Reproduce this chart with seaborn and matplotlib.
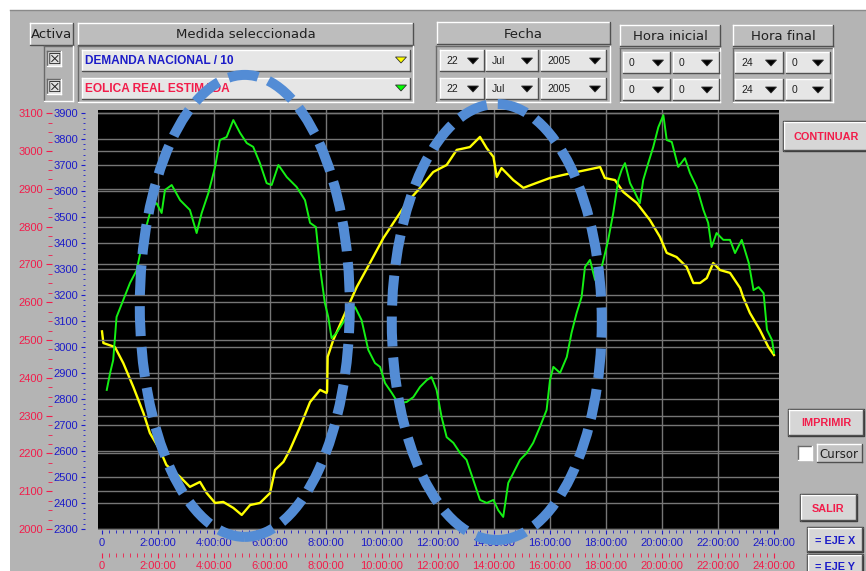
import matplotlib
matplotlib.use("Agg")
from matplotlib import pyplot as plt
from matplotlib.patches import Rectangle, Ellipse, Polygon
from matplotlib.lines import Line2D
from matplotlib.ticker import MultipleLocator
import seaborn as sns

# Demanda nacional / 10 (eje azul) - hora del dia
horas_demanda = [0.0, 0.05, 0.46, 0.76, 1.12, 1.48, 1.71, 2.07, 2.3, 2.79, 3.14, 3.5, 3.74,
                 4.04, 4.33, 4.69, 4.99, 5.29, 5.64, 6.0, 6.18, 6.48, 6.71, 7.07, 7.43,
                 7.79, 8.02, 8.04, 8.06, 8.26, 8.62, 9.1, 9.57, 10.05, 10.52, 10.88, 11.36,
                 11.83, 12.31, 12.67, 13.14, 13.5, 13.74, 13.98, 14.1, 14.27, 14.69, 15.05,
                 15.52, 16.0, 16.48, 16.95, 17.31, 17.79, 17.96, 18.32, 18.62, 19.1, 19.57,
                 19.93, 20.17, 20.52, 20.88, 21.12, 21.36, 21.6, 21.83, 22.07, 22.43, 22.79,
                 22.9, 23.14, 23.5, 23.8, 24.0]
demanda = [3060, 3015, 3000, 2938, 2846, 2746, 2669, 2604, 2546, 2500, 2462, 2481, 2438,
           2400, 2404, 2381, 2354, 2392, 2400, 2438, 2527, 2558, 2604, 2692, 2788,
           2835, 2823, 2830, 2962, 3027, 3115, 3231, 3323, 3419, 3496, 3554, 3612,
           3673, 3700, 3758, 3769, 3808, 3765, 3731, 3654, 3688, 3642, 3612,
           3631, 3650, 3662, 3673, 3681, 3692, 3650, 3642, 3596, 3554, 3488,
           3423, 3362, 3346, 3308, 3246, 3246, 3265, 3323, 3296, 3285, 3227,
           3192, 3131, 3065, 3000, 2969]

# Eolica real estimada (eje rojo)
horas_eolica = [0.17, 0.29, 0.4, 0.52, 0.76, 1.0, 1.24, 1.48, 1.77, 1.95, 2.13, 2.25, 2.49,
                2.79, 3.14, 3.38, 3.56, 3.8, 4.04, 4.21, 4.45, 4.69, 4.93, 5.17, 5.4, 5.64,
                5.88, 6.06, 6.3, 6.6, 6.95, 7.25, 7.43, 7.64, 7.79, 7.96, 8.08, 8.2, 8.38,
                8.74, 9.04, 9.27, 9.51, 9.75, 9.93, 10.11, 10.35, 10.58, 10.88, 11.12,
                11.36, 11.6, 11.77, 11.95, 12.13, 12.31, 12.55, 12.79, 13.02, 13.26, 13.5,
                13.74, 13.98, 14.15, 14.33, 14.51, 14.69, 14.93, 15.17, 15.4, 15.64, 15.88,
                16.0, 16.12, 16.36, 16.6, 16.77, 16.95, 17.13, 17.25, 17.43, 17.61, 17.85,
                18.08, 18.26, 18.44, 18.56, 18.68, 18.86, 19.04, 19.21, 19.33, 19.51,
                19.69, 19.87, 20.05, 20.17, 20.35, 20.58, 20.82, 21.0, 21.24, 21.48,
                21.65, 21.77, 21.95, 22.19, 22.43, 22.61, 22.85, 23.1, 23.27, 23.45,
                23.63, 23.75, 23.93, 24.0]
eolica = [2368, 2413, 2447, 2561, 2606, 2651, 2685, 2772, 2852, 2862, 2836, 2897, 2910,
          2870, 2844, 2783, 2836, 2889, 2958, 3029, 3037, 3082, 3048, 3021, 3011, 2968,
          2915, 2910, 2963, 2931, 2905, 2870, 2810, 2799, 2690, 2598, 2561, 2505, 2519,
          2561, 2587, 2553, 2474, 2439, 2429, 2386, 2360, 2333, 2336, 2349,
          2376, 2394, 2402, 2368, 2296, 2243, 2228, 2201, 2183, 2130, 2077,
          2069, 2077, 2050, 2032, 2122, 2148, 2183, 2201, 2228, 2270, 2315,
          2394, 2429, 2413, 2455, 2519, 2571, 2614, 2693, 2712, 2659, 2693,
          2765, 2836, 2923, 2950, 2968, 2915, 2889, 2862, 2923, 2968,
          3011, 3063, 3095, 3029, 3024, 2958, 2981, 2942, 2905, 2844,
          2810, 2746, 2783, 2765, 2765, 2730, 2765, 2704, 2632, 2640,
          2624, 2527, 2500, 2466]

horas_ticks = list(range(0, 25, 2))
etiquetas_x = ["0"] + [f"{h}:00:00" for h in range(2, 25, 2)]
ticks_demanda = list(range(2300, 4000, 100))
ticks_eolica = list(range(2000, 3200, 100))

# zonas marcadas: (hora centro, demanda centro, ancho en horas, alto en demanda)
zonas = [(5.1, 3158, 7.5, 1777), (14.1, 3096, 7.5, 1677)]

W, H = 866, 571
PT = 0.72  # puntos por pixel a 100 dpi
GRIS = "#b4b4b4"
AZUL = "#1c1cc8"
ROJO = "#f21c4a"
FUENTE = "Liberation Sans"

fig = plt.figure(figsize=(W / 100, H / 100), dpi=100)
fig.patch.set_facecolor("white")


def f(x, y):
    return x / W, 1 - y / H


def linea(x0, y0, x1, y1, c, z=-0.7):
    a, b = f(x0, y0)
    c1, d = f(x1, y1)
    fig.add_artist(Line2D([a, c1], [b, d], transform=fig.transFigure, color=c, lw=1, zorder=z))


def caja(x, y, w, h, fc, hundida=False, borde=None):
    fig.add_artist(Rectangle(f(x, y + h), w / W, h / H, transform=fig.transFigure,
                             fc=fc, ec="none", zorder=-0.8))
    claro, oscuro = ("#ffffff", "#505050") if not hundida else ("#6a6a6a", "#ffffff")
    linea(x, y, x + w, y, claro)
    linea(x, y, x, y + h, claro)
    linea(x, y + h, x + w, y + h, oscuro)
    linea(x + w, y, x + w, y + h, oscuro)
    if borde:
        fig.add_artist(Rectangle(f(x - 1, y + h + 1), (w + 2) / W, (h + 2) / H,
                                 transform=fig.transFigure, fc="none", ec=borde,
                                 lw=1, zorder=-0.75))


def texto(x, y, s, **kw):
    kw.setdefault("va", "center")
    fig.text(x / W, 1 - y / H, s, zorder=-0.6, **kw)


def flecha(x, y, c, ancho=10, alto=6):
    pts = [f(x - ancho / 2, y - alto / 2), f(x + ancho / 2, y - alto / 2), f(x, y + alto / 2)]
    fig.add_artist(Polygon(pts, closed=True, transform=fig.transFigure, fc=c,
                           ec="#303030", lw=0.6, zorder=-0.6))


# panel gris de la ventana
fig.add_artist(Rectangle(f(10, H), 1, 1 - 10 / H, transform=fig.transFigure,
                         fc=GRIS, ec="none", zorder=-1))
linea(10, 10, W, 10, "#8a8a8a")

# cabeceras
for (x, y, w, h, s) in [(30, 23, 43, 22, "Activa"), (78, 23, 335, 22, "Medida seleccionada"),
                        (437, 22, 173, 22, "Fecha"), (620, 25, 100, 21, "Hora inicial"),
                        (733, 25, 100, 21, "Hora final")]:
    caja(x, y, w, h, "#bdbdbd")
    texto(x + w / 2, y + h / 2 + 1, s, ha="center", fontsize=9.5, color="#202020",
          family="DejaVu Sans")

# marcos hundidos
for (x, y, w, h) in [(44, 46, 29, 55), (78, 46, 335, 56), (436, 46, 174, 56),
                     (620, 48, 100, 54), (733, 48, 100, 54)]:
    caja(x, y, w, h, GRIS, hundida=True)

# casillas activa
for y in (51, 79):
    caja(47, y, 14, 15, "#e0e0e0", hundida=True)
    texto(54, y + 8, "\u2612", ha="center", fontsize=11, color="#202020", family="DejaVu Sans")

# selectores de medida
for (y, s, c, cf) in [(50, "DEMANDA NACIONAL / 10", AZUL, "#ffff00"),
                      (78, "EOLICA REAL ESTIMADA", ROJO, "#00ff00")]:
    caja(82, y, 328, 21, "#e6e6e6")
    texto(85, y + 11, s, ha="left", fontsize=8.6, fontweight="bold", color=c, family=FUENTE)
    flecha(401, y + 10, cf, 11, 6)

# fecha y horas
combos = [(440, 44, "22"), (486, 52, "Jul"), (541, 65, "2005")]
for y in (50, 78):
    for (x, w, s) in combos:
        caja(x, y, w, 21, "#e6e6e6")
        texto(x + 6, y + 11, s, ha="left", fontsize=7.5, color="#202020", family=FUENTE)
        flecha(x + w - 11, y + 11, "#000000", 11, 6)
for y in (52, 79):
    for (x, w, s) in [(623, 47, "0"), (673, 46, "0"), (735, 48, "24"), (786, 44, "0")]:
        caja(x, y, w, 21, "#e6e6e6")
        texto(x + 6, y + 11, s, ha="left", fontsize=7.5, color="#202020", family=FUENTE)
        flecha(x + w - 12, y + 11, "#000000", 11, 6)

# botones laterales
for (x, y, w, h, s, c) in [(784, 122, 84, 28, "CONTINUAR", ROJO), (789, 410, 74, 25, "IMPRIMIR", ROJO),
                           (801, 495, 55, 25, "SALIR", ROJO), (808, 528, 54, 23, "= EJE X", AZUL),
                           (808, 555, 54, 22, "= EJE Y", AZUL)]:
    caja(x, y, w, h, "#d6d6d6", borde="#3a3a3a")
    texto(x + w / 2, y + h / 2 + 1, s, ha="center", fontsize=7.8, fontweight="bold",
          color=c, family=FUENTE)
caja(798, 446, 14, 14, "#ffffff", hundida=True)
caja(817, 444, 45, 18, "#c4c4c4")
texto(839, 454, "Cursor", ha="center", fontsize=8.5, color="#202020", family="DejaVu Sans")

# ---- grafica ----
ax = fig.add_axes([98 / W, (H - 530) / H, 681 / W, 420 / H])
ax.set_facecolor("black")
ax2 = ax.twinx()

sns.lineplot(x=horas_demanda, y=demanda, ax=ax, color="#ffff00", linewidth=1.7)
sns.lineplot(x=horas_eolica, y=eolica, ax=ax2, color="#14f014", linewidth=1.4)

for a in (ax, ax2):
    for s in a.spines.values():
        s.set_visible(False)
    a.set_xlabel("")
    a.set_ylabel("")

gc = "#767676"
ax.set_xticks(horas_ticks, etiquetas_x)
ax.xaxis.set_minor_locator(MultipleLocator(0.25))
ax.set_yticks(ticks_demanda)
ax.yaxis.set_minor_locator(MultipleLocator(20))
ax.grid(True, which="major", color=gc, lw=1)
ax2.set_yticks(ticks_eolica)
ax2.yaxis.set_minor_locator(MultipleLocator(25))
ax2.grid(True, axis="y", which="major", color=gc, lw=1)
ax2.yaxis.tick_left()

# sin lineas de rejilla en los bordes del area
for gl in (ax.xaxis.get_gridlines()[0], ax.xaxis.get_gridlines()[-1],
           ax.yaxis.get_gridlines()[0], ax.yaxis.get_gridlines()[-1],
           ax2.yaxis.get_gridlines()[0], ax2.yaxis.get_gridlines()[-1]):
    gl.set_visible(False)

ax.spines["left"].set_position(("outward", 13 * PT))
ax2.spines["left"].set_position(("outward", 46 * PT))

ax.tick_params(axis="y", which="major", direction="out", length=4 * PT, colors=AZUL,
               pad=3 * PT, labelsize=8)
ax.tick_params(axis="y", which="minor", direction="out", length=2 * PT, colors=AZUL)
ax2.tick_params(axis="y", which="major", direction="out", length=6 * PT, colors=ROJO,
                pad=3 * PT, labelsize=8)
ax2.tick_params(axis="y", which="minor", direction="out", length=4 * PT, colors=ROJO)
ax.tick_params(axis="x", which="major", direction="out", length=4 * PT, colors=AZUL,
               pad=4 * PT, labelsize=8)
ax.tick_params(axis="x", which="minor", direction="out", length=3 * PT, colors=AZUL)

sec = ax.secondary_xaxis(-23 / 420)
sec.set_xticks(horas_ticks, etiquetas_x)
sec.xaxis.set_minor_locator(MultipleLocator(0.25))
sec.spines["bottom"].set_visible(False)
sec.tick_params(axis="x", which="major", length=5 * PT, colors=ROJO, pad=3 * PT, labelsize=8)
sec.tick_params(axis="x", which="minor", length=4 * PT, colors=ROJO)

for lab in ax.get_xticklabels() + ax.get_yticklabels() + ax2.get_yticklabels() + sec.get_xticklabels():
    lab.set_family(FUENTE)

# elipses discontinuas de las zonas marcadas
for (hc, dc, wh, hd) in zonas:
    e = Ellipse((hc, dc), wh, hd, transform=ax.transData, fill=False, ec="#538cd5",
                lw=7.2, linestyle=(0, (3.0, 1.1)), clip_on=False, zorder=10)
    ax2.add_patch(e)

ax.set_xlim(-0.143, 24.18)
ax.set_ylim(2296, 3911.5)
ax2.set_ylim(1997.4, 3108.5)

fig.savefig("out.png", dpi=100, facecolor=fig.get_facecolor())
